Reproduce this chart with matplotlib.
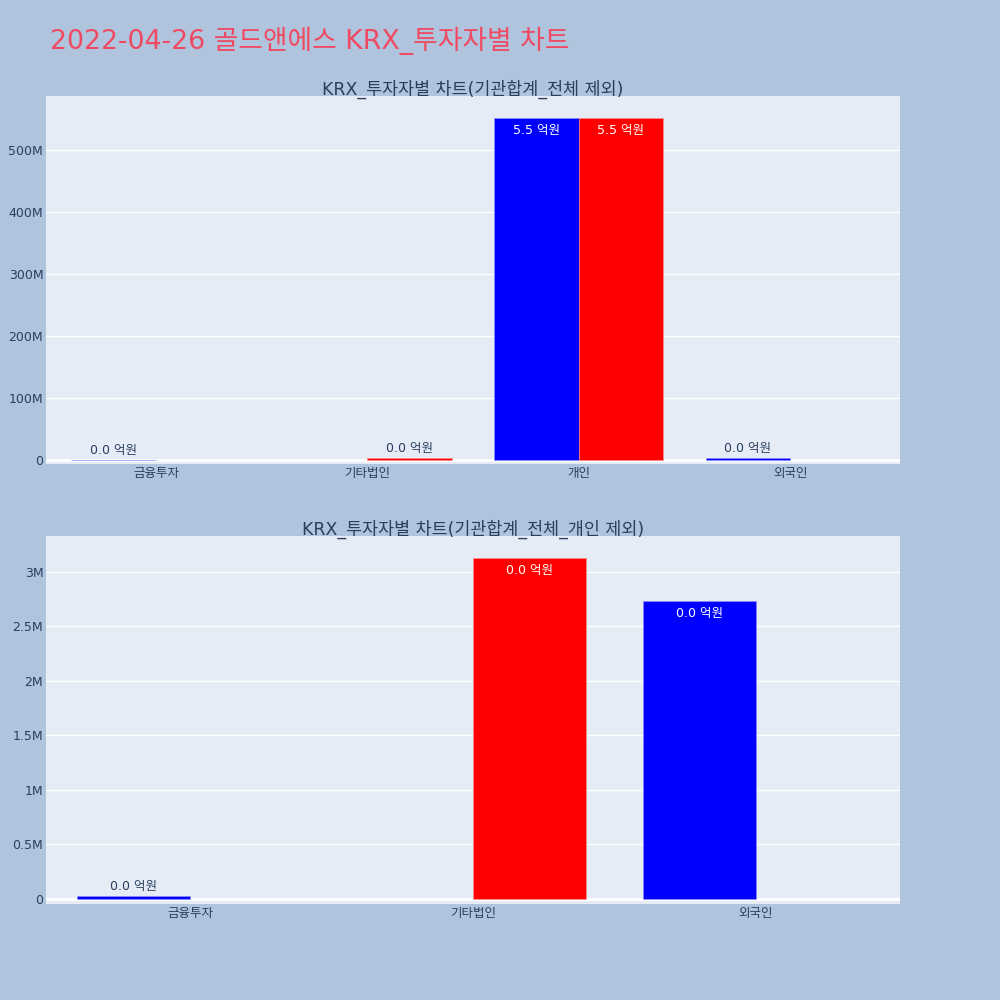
import numpy as np
import matplotlib.pyplot as plt
from matplotlib.ticker import FuncFormatter

plt.rcParams['font.family'] = ['DejaVu Sans', 'Noto Sans CJK KR']

# data
title = '2022-04-26 골드앤에스 KRX_투자자별 차트'
top_title = 'KRX_투자자별 차트(기관합계_전체 제외)'
bottom_title = 'KRX_투자자별 차트(기관합계_전체_개인 제외)'

top_cats = ['금융투자', '기타법인', '개인', '외국인']
top_blue = [25000, np.nan, 551.6e6, 2.734e6]
top_red = [np.nan, 3.128e6, 551.6e6, np.nan]

bottom_cats = ['금융투자', '기타법인', '외국인']
bottom_blue = [25000, np.nan, 2.734e6]
bottom_red = [np.nan, 3.128e6, np.nan]

BG = '#B0C4DE'
PLOT_BG = '#E5ECF6'
TXT = '#2a3f5f'


def fmt_y(v, pos):
    if abs(v) < 1:
        return '0'
    return f'{v / 1e6:g}M'


def draw_panel(ax, cats, blue, red, ylim, yticks, xpad):
    ax.set_facecolor(PLOT_BG)
    x = np.arange(len(cats))
    w = 0.4
    span = ylim[1] - ylim[0]
    for vals, off, color, edge in [(blue, -w / 2, '#0000FF', '#8C8CFF'),
                                   (red, w / 2, '#FF0000', '#FF8C8C')]:
        vals = np.array(vals, dtype=float)
        ax.bar(x + off, vals, width=w, color=color, edgecolor=edge,
               linewidth=0.5, zorder=3)
        for xi, v in zip(x + off, vals):
            if np.isnan(v):
                continue
            label = f'{v / 1e8:.1f} 억원'
            if v / span > 0.08:
                ax.annotate(label, (xi, v), xytext=(0, -4), textcoords='offset points',
                            ha='center', va='top', color='white', fontsize=9, zorder=4)
            else:
                ax.annotate(label, (xi, v), xytext=(0, 2), textcoords='offset points',
                            ha='center', va='bottom', color=TXT, fontsize=9, zorder=4)
    ax.set_xlim(-0.5 - xpad, len(cats) - 0.5 + xpad)
    ax.set_ylim(*ylim)
    ax.set_xticks(x)
    ax.set_xticklabels(cats)
    ax.set_yticks(yticks)
    ax.yaxis.set_major_formatter(FuncFormatter(fmt_y))
    ax.grid(axis='y', color='white', linewidth=1, zorder=0)
    ax.axhline(0, color='white', linewidth=2, zorder=2)
    ax.tick_params(length=0, colors=TXT, labelsize=9, pad=2)
    for s in ax.spines.values():
        s.set_visible(False)


fig = plt.figure(figsize=(10, 10), dpi=100, facecolor=BG)
fig.text(0.05, 0.959, title, color='#EF4A62', fontsize=19.3, ha='left', va='center')

ax1 = fig.add_axes([0.046, 0.536, 0.854, 0.368])
draw_panel(ax1, top_cats, top_blue, top_red, (-6.5e6, 587e6),
           [0, 100e6, 200e6, 300e6, 400e6, 500e6], 0.02)
fig.text(0.473, 0.911, top_title, color=TXT, fontsize=12.5, ha='center', va='center',
         zorder=5)

ax2 = fig.add_axes([0.046, 0.096, 0.854, 0.368])
draw_panel(ax2, bottom_cats, bottom_blue, bottom_red, (-0.046e6, 3.33e6),
           [0, 0.5e6, 1e6, 1.5e6, 2e6, 2.5e6, 3e6], 0.01)
fig.text(0.473, 0.471, bottom_title, color=TXT, fontsize=12.5, ha='center', va='center',
         zorder=5)

fig.savefig('out.png', dpi=100, facecolor=BG)
